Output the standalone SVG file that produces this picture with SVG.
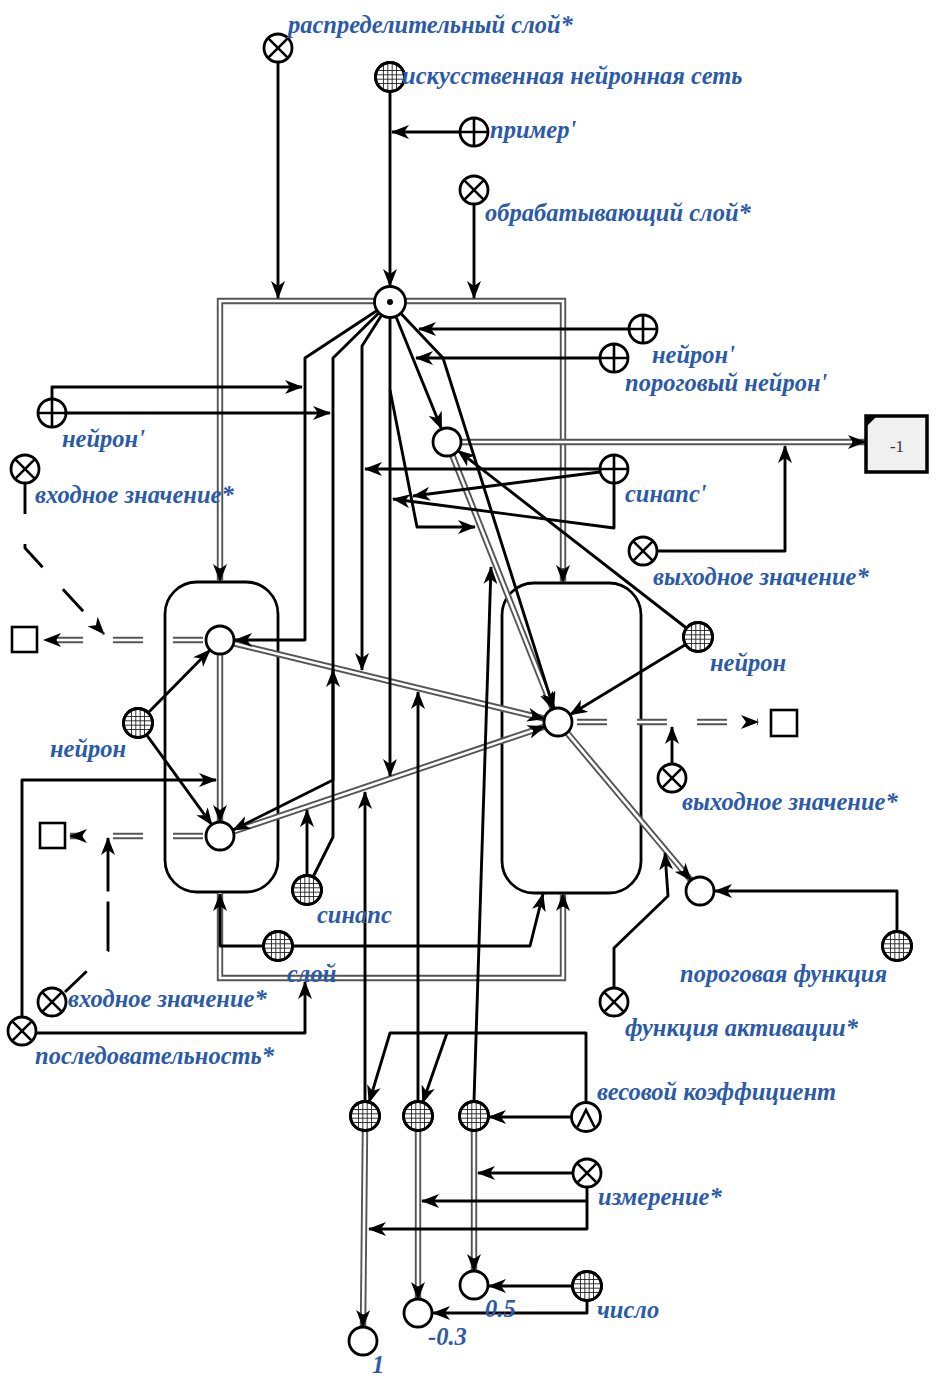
<svg xmlns="http://www.w3.org/2000/svg" xmlns:xlink="http://www.w3.org/1999/xlink" width="944" height="1394" viewBox="0 0 944 1394">
<style>
.l{fill:none;stroke:#000;stroke-width:2.9;stroke-linejoin:round}
.a{marker-end:url(#ah)}
.d1{fill:none;stroke:#555;stroke-width:6.4;stroke-linejoin:miter}
.d2{fill:none;stroke:#fff;stroke-width:2.6;stroke-linejoin:miter}
.dm{fill:none;stroke:none;marker-end:url(#ah)}
.dd{stroke-dasharray:30 30}
.t{font-family:"Liberation Serif","DejaVu Serif",serif;font-weight:bold;font-style:italic;font-size:24.5px;fill:#2b5aa8}
.n{fill:#fff;stroke:#000;stroke-width:2.8}
.s{fill:none;stroke:#000;stroke-width:2.6}
.g{fill:none;stroke:#222;stroke-width:0.9}
</style>
<defs>
<marker id="ah" viewBox="0 0 18 14" refX="17" refY="7" markerWidth="18" markerHeight="14" markerUnits="userSpaceOnUse" orient="auto"><path d="M0,0 L18,7 L0,14 L5,7 z" fill="#000"/></marker>
<g id="gGrid"><circle r="14.5" class="n"/><path class="g" d="M-6.5,-12.5V12.5M-2.2,-13.8V13.8M2.2,-13.8V13.8M6.5,-12.5V12.5M-12.5,-6.5H12.5M-13.8,-2.2H13.8M-13.8,2.2H13.8M-12.5,6.5H12.5"/><circle r="14.5" fill="none" stroke="#000" stroke-width="2.8"/></g>
<g id="gPlus"><circle r="14" class="n"/><path class="s" d="M-14,0H14M0,-14V14"/></g>
<g id="gX"><circle r="14" class="n"/><path class="s" d="M-9.9,-9.9L9.9,9.9M-9.9,9.9L9.9,-9.9"/></g>
<g id="gDot"><circle r="15.5" class="n"/><circle r="3" fill="#000"/></g>
<g id="gC"><circle r="14" class="n"/></g>
<g id="gHat"><circle r="14.5" class="n"/><path class="s" d="M-8.5,10L0,-7L8.5,10"/></g>
</defs>
<rect width="944" height="1394" fill="#fff"/>

<g id="groups">
<rect id="layer_left" x="165" y="582" width="113" height="310" rx="32" fill="none" stroke="#000" stroke-width="2.8"/>
<rect id="layer_right" x="502" y="583" width="139" height="310" rx="32" fill="none" stroke="#000" stroke-width="2.8"/>
</g>

<g id="connectors">
<!-- double arcs -->
<path class="d1" d="M376,301H220V581"/><path class="d2" d="M376,301H220V568"/><path class="dm" d="M376,301H220V581"/>
<path class="d1" d="M404,301H563V582"/><path class="d2" d="M404,301H563V568"/><path class="dm" d="M404,301H563V582"/>
<path class="d1" d="M220,654V822"/><path class="d2" d="M220,654V810"/><path class="dm" d="M220,654V822"/>
<path class="d1" d="M233.6,643.3L544.4,718.7"/><path class="d2" d="M233.6,643.3L532,715.7"/><path class="dm" d="M233.6,643.3L544.4,718.7"/>
<path class="d1" d="M233.3,831.5L544.7,726.5"/><path class="d2" d="M233.3,831.5L533,730.5"/><path class="dm" d="M233.3,831.5L544.7,726.5"/>
<path class="d1" d="M452.2,455L552.8,709"/><path class="d2" d="M452.2,455L548,697"/><path class="dm" d="M452.2,455L552.8,709"/>
<path class="d1" d="M461,442H865"/><path class="d2" d="M461,442H852"/><path class="dm" d="M461,442H865"/>
<path class="d1" d="M567,732.7L691,880.3"/><path class="d2" d="M567,732.7L683,870.8"/><path class="dm" d="M567,732.7L691,880.3"/>
<path class="d1" d="M220,893V978H563V894"/><path class="d2" d="M220,893V978H563V907"/><path class="dm" d="M220,893V978H563V894"/>
<path class="d1" d="M365,1130L363,1327"/><path class="d2" d="M365,1130L363.1,1314"/><path class="dm" d="M365,1130L363,1327"/>
<path class="d1" d="M418,1130V1299"/><path class="d2" d="M418,1130V1286"/><path class="dm" d="M418,1130V1299"/>
<path class="d1" d="M474,1130V1271"/><path class="d2" d="M474,1130V1258"/><path class="dm" d="M474,1130V1271"/>
<!-- dashed double arcs -->
<path class="d1 dd" d="M203,640H44"/><path class="d2 dd" d="M203,640H57"/><path class="dm" d="M203,640H44"/>
<path class="d1 dd" d="M203,836H70"/><path class="d2 dd" d="M203,836H83"/><path class="dm" d="M203,836H70"/>
<path class="d1 dd" d="M577,722H758"/><path class="d2 dd" d="M577,722H745"/><path class="dm" d="M577,722H758"/>
<!-- single arcs -->
<path class="l a" d="M278,62V298"/>
<path class="l a" d="M390,92V286"/>
<path class="l a" d="M474,204V298"/>
<path class="l a" d="M460,132H392"/>
<path class="l a" d="M390,302L305,358V640H235"/>
<path class="l a" d="M390,302L333,358V780L233,830"/>
<path class="l a" d="M390,302L362,346V670"/>
<path class="l a" d="M390,302V776"/>
<path class="l a" d="M390,302L441.6,429"/>
<path class="l a" d="M390,302L443,358L553.8,708.6"/>
<path class="l a" d="M390,390L417,527H475"/>
<path class="l a" d="M629,329H419"/>
<path class="l a" d="M600,358H416"/>
<path class="l a" d="M52,399V387H302"/>
<path class="l a" d="M66,413H330"/>
<path class="l a" d="M600,469H365"/>
<path class="l a" d="M600,472L413,496"/>
<path class="l a" d="M614,483V528L393,499"/>
<path class="l a" d="M307,875V810"/>
<path class="l a" d="M313,877L333,837V670"/>
<path class="l a" d="M138,723L210,650"/>
<path class="l a" d="M138,723L212,825"/>
<path class="l a" d="M22,1017V780H216"/>
<path class="l a" d="M36,1033H305V982"/>
<path class="l a" d="M263,946H220V894"/>
<path class="l a" d="M293,946H530L543,894"/>
<path class="l a" d="M657,551H785V446"/>
<path class="l a" d="M698,637L458,450.6"/>
<path class="l a" d="M698,637L570,714.7"/>
<path class="l a" d="M672,764V727"/>
<path class="l a" d="M897,931V891H715"/>
<path class="l a" d="M614,988V948L668,896L665,853"/>
<path class="l a" d="M586,1102V1033H390L369,1102.6"/>
<path class="l a" d="M447,1033L422.6,1102.8"/>
<path class="l a" d="M571,1117H489"/>
<path class="l a" d="M365,1101V792"/>
<path class="l a" d="M418,1101V692"/>
<path class="l a" d="M474,1101L491,567"/>
<path class="l a" d="M573,1173H478"/>
<path class="l a" d="M587,1187V1201H422"/>
<path class="l a" d="M587,1201V1229H369"/>
<path class="l a" d="M572,1286H489"/>
<path class="l a" d="M587,1300V1313H433"/>
<!-- dashed single arcs -->
<path class="l a" style="stroke-dasharray:30 30" d="M25,484V548L104,634"/>
<path class="l a" style="stroke-dasharray:30 29 50 10 60" d="M65,992L108,951V838"/>
</g>

<g id="n_rs"><use href="#gX" x="278" y="48"/><text class="t" x="288" y="33">распределительный слой*</text></g>
<g id="n_ins"><use href="#gGrid" x="390" y="77"/><text class="t" x="402" y="84">искусственная нейронная сеть</text></g>
<g id="n_ex"><use href="#gPlus" x="474" y="132"/><text class="t" x="490" y="138">пример'</text></g>
<g id="n_os"><use href="#gX" x="474" y="190"/><text class="t" x="485" y="221">обрабатывающий слой*</text></g>
<g id="n_top"><use href="#gDot" x="390" y="302"/></g>
<g id="n_nr1"><use href="#gPlus" x="643" y="329"/><text class="t" x="652" y="363">нейрон'</text></g>
<g id="n_tn"><use href="#gPlus" x="614" y="358"/><text class="t" x="625" y="391">пороговый нейрон'</text></g>
<g id="n_nl"><use href="#gPlus" x="52" y="413"/><text class="t" x="62" y="447">нейрон'</text></g>
<g id="n_sc"><use href="#gC" x="447" y="442"/></g>
<g id="n_m1"><rect x="866" y="416" width="61" height="56" fill="#f0f0f0" stroke="#000" stroke-width="3.5"/><path d="M866,416H877L866,427z" fill="#000"/><text x="897" y="452" text-anchor="middle" font-family="Liberation Serif,serif" font-size="17" fill="#333">-1</text></g>
<g id="n_syn1"><use href="#gPlus" x="614" y="469"/><text class="t" x="625" y="502">синапс'</text></g>
<g id="n_in1"><use href="#gX" x="25" y="469"/><text class="t" x="35" y="503">входное значение*</text></g>
<g id="n_out1"><use href="#gX" x="643" y="551"/><text class="t" x="653" y="585">выходное значение*</text></g>
<g id="n_neur_r"><use href="#gGrid" x="698" y="637"/><text class="t" x="710" y="671">нейрон</text></g>
<g id="n_u"><use href="#gC" x="220" y="640"/></g>
<g id="n_l"><use href="#gC" x="220" y="836"/></g>
<g id="n_r"><use href="#gC" x="558" y="722"/></g>
<g id="sq_u"><rect x="12" y="627" width="25" height="25" fill="#fff" stroke="#000" stroke-width="2.6"/></g>
<g id="sq_l"><rect x="40" y="823" width="25" height="25" fill="#fff" stroke="#000" stroke-width="2.6"/></g>
<g id="sq_r"><rect x="771" y="710" width="26" height="26" fill="#fff" stroke="#000" stroke-width="2.6"/></g>
<g id="n_neur_l"><use href="#gGrid" x="138" y="723"/><text class="t" x="50" y="757">нейрон</text></g>
<g id="n_out2"><use href="#gX" x="672" y="778"/><text class="t" x="682" y="810">выходное значение*</text></g>
<g id="n_syn"><use href="#gGrid" x="307" y="890"/><text class="t" x="317" y="923">синапс</text></g>
<g id="n_tf"><use href="#gC" x="700" y="891"/></g>
<g id="n_layer"><use href="#gGrid" x="278" y="946"/><text class="t" x="287" y="982">слой</text></g>
<g id="n_ptf"><use href="#gGrid" x="897" y="946"/><text class="t" x="680" y="982">пороговая функция</text></g>
<g id="n_in2"><use href="#gX" x="52" y="1002"/><text class="t" x="68" y="1007">входное значение*</text></g>
<g id="n_act"><use href="#gX" x="614" y="1002"/><text class="t" x="625" y="1036">функция активации*</text></g>
<g id="n_seq"><use href="#gX" x="22" y="1031"/><text class="t" x="35" y="1064">последовательность*</text></g>
<g id="n_g1"><use href="#gGrid" x="365" y="1116"/></g>
<g id="n_g2"><use href="#gGrid" x="418" y="1116"/></g>
<g id="n_g3"><use href="#gGrid" x="474" y="1116"/></g>
<g id="n_w"><use href="#gHat" x="586" y="1117"/><text class="t" x="597" y="1100">весовой коэффициент</text></g>
<g id="n_meas"><use href="#gX" x="587" y="1173"/><text class="t" x="598" y="1205">измерение*</text></g>
<g id="n_num"><use href="#gGrid" x="587" y="1286"/><text class="t" x="597" y="1318">число</text></g>
<g id="n_c05"><use href="#gC" x="474" y="1285"/><text class="t" x="485" y="1317">0.5</text></g>
<g id="n_c03"><use href="#gC" x="418" y="1313"/><text class="t" x="428" y="1345">-0.3</text></g>
<g id="n_c1"><use href="#gC" x="363" y="1341"/><text class="t" x="372" y="1373">1</text></g>
</svg>
